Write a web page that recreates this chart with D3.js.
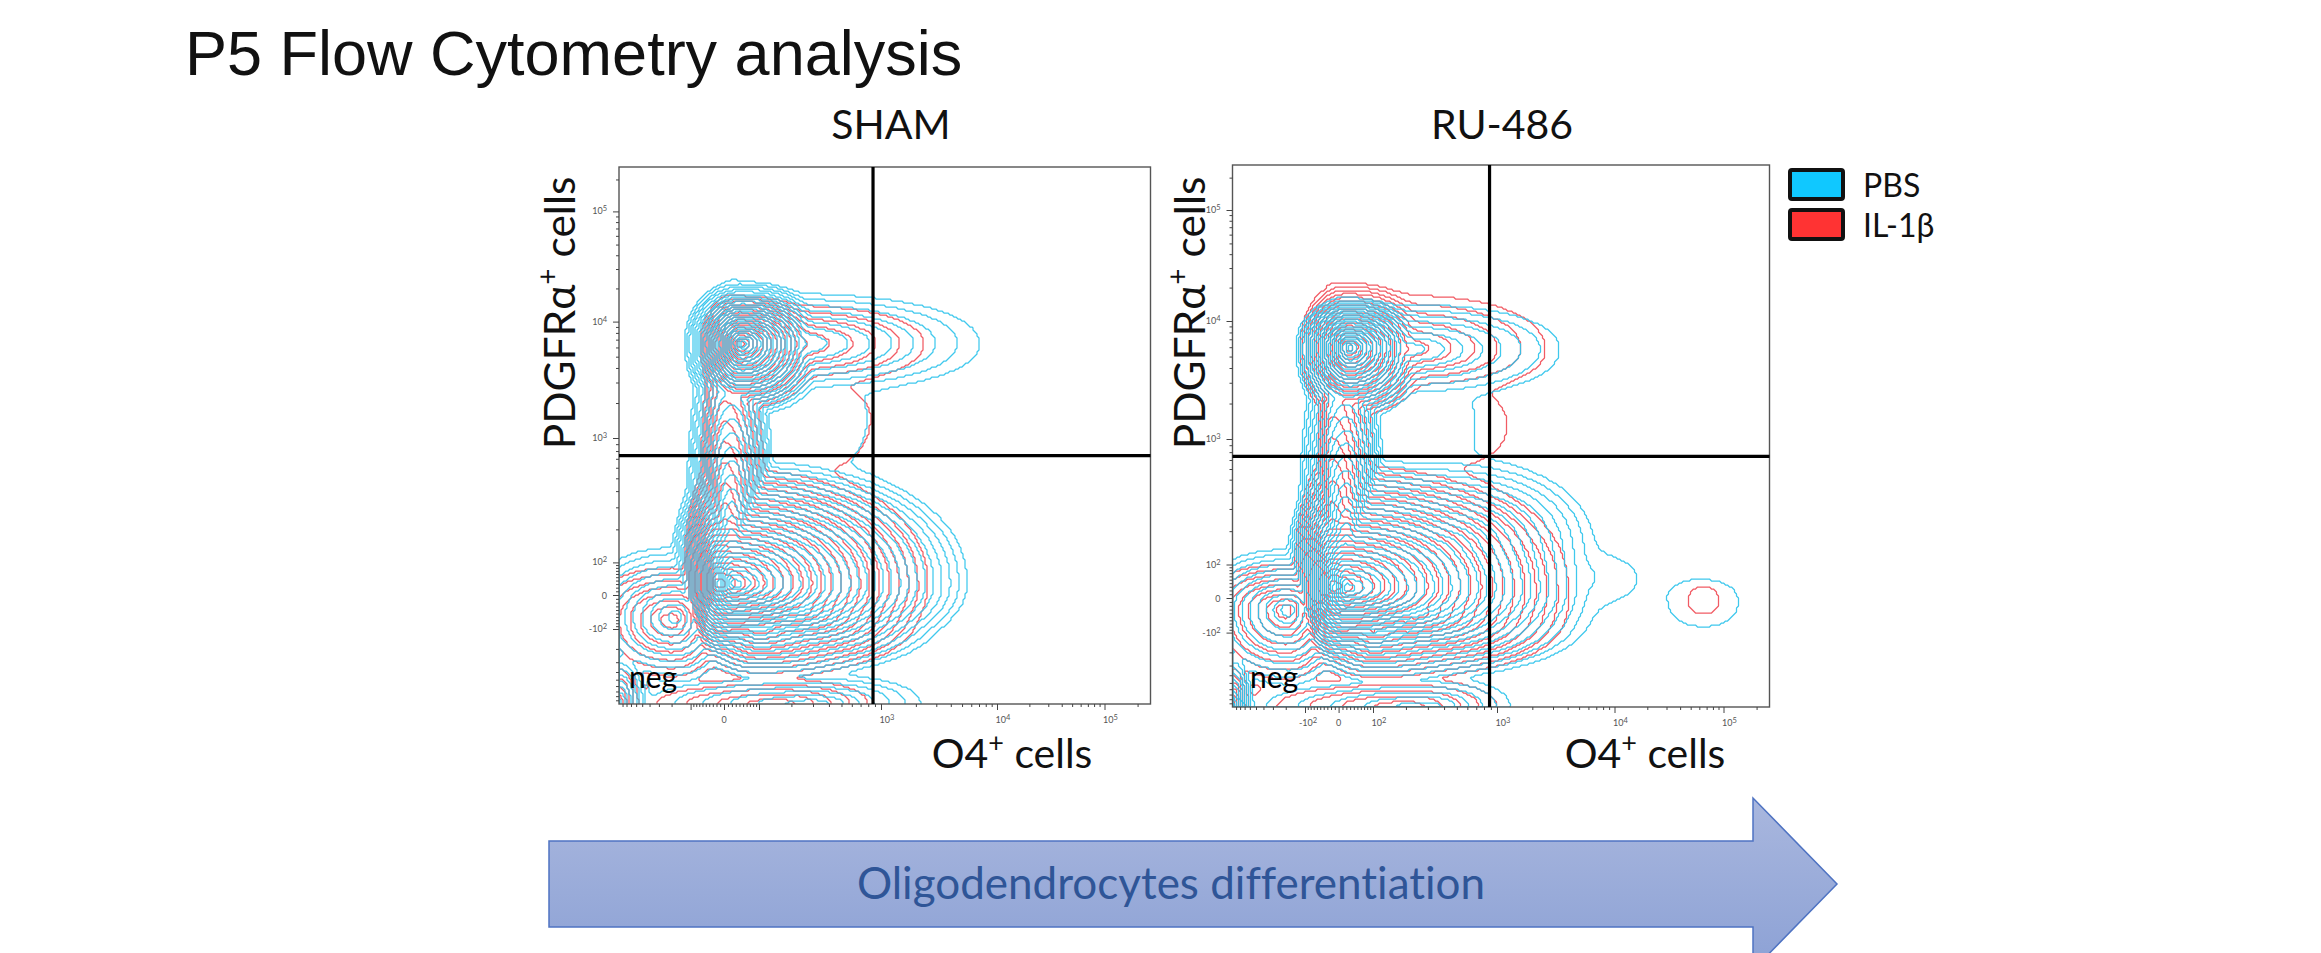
<!DOCTYPE html>
<html><head><meta charset="utf-8">
<script src="https://cdnjs.cloudflare.com/ajax/libs/d3/7.8.5/d3.min.js"></script>
<style>html,body{margin:0;padding:0;background:#fff;overflow:hidden}svg{display:block}text{font-family:Lato,"Open Sans",sans-serif;font-variant-ligatures:none}</style>
</head><body><svg id="c" width="2321" height="953"></svg>
<script>
// Axis tick values (biexponential cytometry axes)
const tickAnchors = [-1000,-100,0,100,1000,10000,100000,262144];
const xMajor = [-100,0,100,1000,10000,100000];
const yMajor = [-100,0,100,1000,10000,100000];
const minorValues = [-900,-800,-700,-600,-500,-400,-300,-200,-90,-80,-70,-60,-50,-40,-30,-20,-10,10,20,30,40,50,60,70,80,90,200,300,400,500,600,700,800,900,2000,3000,4000,5000,6000,7000,8000,9000,20000,30000,40000,50000,60000,70000,80000,90000,200000];
// Density lobes: [peak O4, peak PDGFRa, O4 low, O4 high, PDGFRa low, PDGFRa high, rings]
const shamPBS = [
 [50,6500,-125,400,1500,23000,25],[170,6500,100,7000,2500,18000,9],[240,1500,100,800,500,3500,1],
 [20,30,-125,150,-300,23000,22],[25,30,-210,5500,-330,720,28],[240,-30,-50,3500,-400,300,15],[100,-100,-100,1200,-520,100,12],
 [300,-1000,-1000,2200,-2600,-430,7],[-170,-60,-3000,30,-620,140,11],[-1000,-1000,-2000,-380,-2000,-150,11]];
const shamIL1 = [
 [40,6500,-65,360,1700,17000,18],[170,6500,100,2300,3000,14000,6],[260,1500,110,850,550,3000,1],
 [0,30,-70,130,-250,16000,14],[-20,30,-130,2500,-300,650,22],[240,-40,-50,2100,-360,250,12],[100,-100,-80,900,-470,80,10],
 [150,-1000,-800,800,-2400,-500,5],[-200,-70,-2500,0,-570,80,8],[-1000,-1000,-1700,-520,-1900,-220,6]];
const ruPBS = [
 [30,6000,-140,290,1400,16000,23],[200,5800,100,3400,2300,14000,8],[300,1300,100,700,500,3200,1],
 [20,25,-135,140,-300,16000,22],[20,25,-200,6500,-350,750,28],[400,150,50,6500,-100,720,14],
 [5000,60,1000,15000,-20,130,1.3],[240,-40,-50,6000,-420,150,15],[100,-100,-100,1400,-520,100,12],
 [300,-1000,-1000,1300,-2600,-420,6],[-180,-30,-3000,30,-620,140,12],[-1000,-1000,-1500,-520,-1900,-130,12]
 ,[65000,-10,33000,137000,-79,49,1]];
const ruIL1 = [
 [25,6000,-120,330,1500,22000,18],[200,5800,100,2500,2600,17000,6],[330,1300,110,1250,600,3000,1],
 [-20,30,-60,120,-250,20000,14],[-20,30,-150,4000,-310,700,22],[240,-40,-50,3800,-380,140,13],[100,-100,-80,1000,-480,90,10],
 [200,-1000,-700,1000,-2400,-450,5],[-200,-30,-2500,0,-570,100,9],[-1000,-1000,-1500,-600,-1900,-230,8],
 [65000,-8,47000,91000,-42,32,0.8]];
const panelNames = ["SHAM","RU-486"];
const gateX = [870,880], gateY = [740,745];
const xLabelled = [[0,1000,10000,100000],[-100,0,100,1000,10000,100000]];
const yLabelled = [-100,0,100,1000,10000,100000];
const legendNames = ["PBS","IL-1β"];
const legendColors = ["#10c8ff","#ff3333"];
const lineColors = {pbs:"#2fc3ec", il1:"#f0525c"};

// Layout
const panels = [
 {l:619,r:1150.5,t:167,b:704, xPx:[619,690.6,724,759,881,997,1104.5,1150.5], yPx:[704,629,595,562.4,438,321.6,211.4,167], pbs:shamPBS, il1:shamIL1, title:891, xt:1012, neg:629, yl:560},
 {l:1232.5,r:1769.5,t:165,b:707, xPx:[1232.5,1305,1338.6,1373,1497,1614.5,1723.5,1769.5], yPx:[707,632.6,598,564.5,439,321,210,165], pbs:ruPBS, il1:ruIL1, title:1502, xt:1645, neg:1250, yl:1190}
];
const t = v => Math.asinh(v/100);
const svg = d3.select("#c");
const defs = svg.append("defs");
const grad = defs.append("linearGradient").attr("id","ag").attr("x1",0).attr("x2",0).attr("y1",0).attr("y2",1);
grad.append("stop").attr("offset",0).attr("stop-color","#a9b7de");
grad.append("stop").attr("offset",1).attr("stop-color","#8ca1d5");

// Slide title and arrow
svg.append("text").attr("x",185).attr("y",75).attr("font-size",63).style("font-family","'Liberation Sans'").attr("fill","#111").text("P5 Flow Cytometry analysis");
const arrowLine = d3.line();
svg.append("path").attr("d",arrowLine([[549,841],[1753,841],[1753,798],[1837,884],[1753,970],[1753,927],[549,927]])+"Z").attr("fill","url(#ag)").attr("stroke","#4f73c2").attr("stroke-width",1.5);
svg.append("text").attr("x",1171).attr("y",899).attr("text-anchor","middle").attr("font-size",44).attr("fill","#2f5597").text("Oligodendrocytes differentiation");

const step = 2, softness = 1.6;
function field(blobs, p, x, y){
 const bs = blobs.map(b=>({cx:x(b[0]),cy:y(b[1]),xl:x(b[0])-x(b[2]),xr:x(b[3])-x(b[0]),yd:y(b[4])-y(b[1]),yu:y(b[1])-y(b[5]),h:b[6]}));
 const w=Math.ceil((p.r-p.l)/step), h=Math.ceil((p.b-p.t)/step), vals=new Float64Array(w*h);
 for(let j=0;j<h;j++)for(let i=0;i<w;i++){
  const px=p.l+(i+.5)*step, py=p.t+(j+.5)*step; let s=0;
  for(const b of bs){
   const dx=px-b.cx, dy=py-b.cy;
   const rx=dx<0?b.xl:b.xr, ry=dy>0?b.yd:b.yu;
   const d=Math.pow(Math.pow(Math.abs(dx)/Math.max(rx,1),2.2)+Math.pow(Math.abs(dy)/Math.max(ry,1),2.2),1/2.2);
   s+=Math.exp(softness*b.h*(1-d));
  }
  vals[i+j*w]=Math.log(s)/softness;
 }
 return {w,h,vals};
}
panels.forEach((p,k)=>{
 const x=d3.scaleLinear().domain(tickAnchors.map(t)).range(p.xPx);
 const y=d3.scaleLinear().domain(tickAnchors.map(t)).range(p.yPx);
 const X=v=>x(t(v)), Y=v=>y(t(v));
 const clipId="clip"+k;
 defs.append("clipPath").attr("id",clipId).append("rect").attr("x",p.l).attr("y",p.t).attr("width",p.r-p.l).attr("height",p.b-p.t);
 const g=svg.append("g");
 const cg=g.append("g").attr("clip-path",`url(#${clipId})`).style("filter","blur(0.35px)");
 const path=d3.geoPath(d3.geoIdentity().scale(step).translate([p.l,p.t]));
 [["il1",p.il1,0.02],["pbs",p.pbs,0.02]].forEach(([name,blobs,off])=>{
  const f=field(blobs,p,X,Y);
  const levels=d3.range(off,36,1);
  const cs=d3.contours().size([f.w,f.h]).smooth(false).thresholds(levels)(f.vals);
  cg.append("g").selectAll("path").data(cs).join("path").attr("d",path).attr("fill","none")
    .attr("stroke",lineColors[name]).attr("stroke-width",1.25).attr("stroke-opacity",name=="pbs"?.92:.95).attr("stroke-linejoin","round");
 });
 // frame
 g.append("rect").attr("x",p.l).attr("y",p.t).attr("width",p.r-p.l).attr("height",p.b-p.t).attr("fill","none").attr("stroke","#555").attr("stroke-width",1.4);
 // axes (scales run on the transformed value)
 const tickStyle=s=>{s.select(".domain").remove();s.selectAll("line").attr("stroke","#444").attr("stroke-width",1);};
 g.append("g").attr("transform",`translate(0,${p.b})`).call(d3.axisBottom(x).tickValues(minorValues.map(t)).tickSize(3).tickFormat("")).call(tickStyle);
 g.append("g").attr("transform",`translate(0,${p.b})`).call(d3.axisBottom(x).tickValues(xMajor.map(t)).tickSize(6).tickFormat("")).call(tickStyle);
 g.append("g").attr("transform",`translate(${p.l},0)`).call(d3.axisLeft(y).tickValues(minorValues.map(t)).tickSize(3).tickFormat("")).call(tickStyle);
 g.append("g").attr("transform",`translate(${p.l},0)`).call(d3.axisLeft(y).tickValues(yMajor.map(t)).tickSize(6).tickFormat("")).call(tickStyle);
 const lab=(sel,v)=>{
  if(v===0){sel.append("tspan").text("0");return;}
  sel.append("tspan").text((v<0?"-":"")+"10");
  sel.append("tspan").attr("dy",-3).attr("font-size",7.5).text(Math.round(Math.log10(Math.abs(v))));
 };
 xLabelled[k].forEach(v=>{
  const s=g.append("text").attr("x",X(v)+(v===0?0:v<0?3:6)).attr("y",p.b+19).attr("text-anchor","middle").attr("font-size",9).attr("fill","#555");lab(s,v);
 });
 yLabelled.forEach(v=>{
  const s=g.append("text").attr("x",p.l-12).attr("y",Y(v)+(v===0?4:3)).attr("text-anchor","end").attr("font-size",9).attr("fill","#555");lab(s,v);
 });
 // gates
 g.append("line").attr("x1",X(gateX[k])).attr("x2",X(gateX[k])).attr("y1",p.t).attr("y2",p.b).attr("stroke","#000").attr("stroke-width",3.2);
 g.append("line").attr("x1",p.l).attr("x2",p.r).attr("y1",Y(gateY[k])).attr("y2",Y(gateY[k])).attr("stroke","#000").attr("stroke-width",3.2);
 // titles
 svg.append("text").attr("x",p.title).attr("y",139).attr("text-anchor","middle").attr("font-size",41).attr("fill","#111").text(panelNames[k]);
 const xl=svg.append("text").attr("x",p.xt).attr("y",768).attr("text-anchor","middle").attr("font-size",41).attr("fill","#111");
 xl.append("tspan").text("O4");xl.append("tspan").attr("dy",-16).attr("font-size",27).text("+");xl.append("tspan").attr("dy",16).text(" cells");
 const yl=svg.append("text").attr("transform",`translate(${p.yl+15},313) rotate(-90)`).attr("text-anchor","middle").attr("font-size",42.5).attr("fill","#111");
 yl.append("tspan").text("PDGFRα");yl.append("tspan").attr("dy",-17).attr("font-size",28).text("+");yl.append("tspan").attr("dy",17).text(" cells");
 svg.append("text").attr("x",p.neg).attr("y",688).attr("font-size",30).attr("fill","#000").text("neg");
});
// legend
legendNames.forEach((n,i)=>{
 const y0=170+i*40;
 svg.append("rect").attr("x",1790).attr("y",y0).attr("width",53).attr("height",29).attr("rx",2).attr("fill",legendColors[i]).attr("stroke","#111").attr("stroke-width",4);
 svg.append("text").attr("x",1863).attr("y",y0+27).attr("font-size",32).attr("fill","#111").text(n);
});
</script></body></html>
